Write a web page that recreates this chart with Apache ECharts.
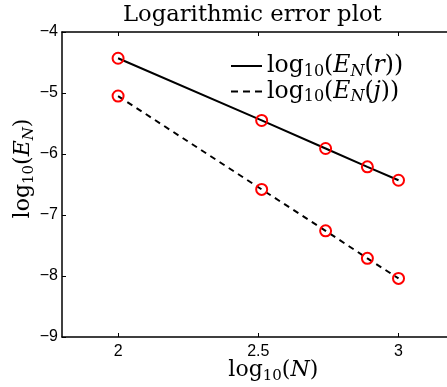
<!DOCTYPE html>
<html>
<head>
<meta charset="utf-8">
<script src="https://cdn.jsdelivr.net/npm/echarts@6/dist/echarts.min.js"></script>
<style>
  html, body { margin: 0; padding: 0; background: #fff; }
  #chart { width: 447px; height: 387px; }
</style>
</head>
<body>
<div id="chart"></div>
<script>
// log10 of the problem size N
const logN = [2, 2.512, 2.740, 2.889, 3];
// log10 of the error norms
const errR = [-4.43, -5.45, -5.91, -6.21, -6.43];
const errJ = [-5.05, -6.58, -7.26, -7.71, -8.04];
// tick positions
const xTicks = [2, 2.5, 3];

const serif = '"DejaVu Serif", serif';
const sans = '"Liberation Sans", Arial, sans-serif';

// rich-text styles for the small math labels: m = roman, i = italic, s/si = subscripts
function mathStyles(size, sub) {
  return {
    m: { fontFamily: serif, fontSize: size, color: '#000', lineHeight: 27 },
    i: { fontFamily: serif, fontSize: size, fontStyle: 'italic', color: '#000', lineHeight: 27 },
    s: { fontFamily: serif, fontSize: sub, color: '#000', lineHeight: 15, verticalAlign: 'bottom' },
    si: { fontFamily: serif, fontSize: sub, fontStyle: 'italic', color: '#000', lineHeight: 15, verticalAlign: 'bottom' }
  };
}
const axisRich = mathStyles(22, 15);
const legendRich = mathStyles(23.5, 16);

const labelR = 'log\u2081\u2080(E_N(r))';
const labelJ = 'log\u2081\u2080(E_N(j))';

const pairs = (ys) => logN.map((x, k) => [x, ys[k]]);
const minus = (v) => String(v).replace('-', '\u2212');

const chart = echarts.init(document.getElementById('chart'), null, { renderer: 'canvas' });

chart.setOption({
  animation: false,
  backgroundColor: '#fff',
  title: {
    text: 'Logarithmic error plot',
    left: 118,
    top: -1,
    textStyle: { fontFamily: serif, fontSize: 22.7, fontWeight: 'normal', color: '#000' }
  },
  legend: {
    left: 231,
    top: 54,
    orient: 'vertical',
    itemWidth: 31,
    itemHeight: 2,
    itemGap: 0,
    padding: 0,
    itemStyle: { color: '#000', borderWidth: 0 },
    textStyle: { rich: legendRich },
    formatter: (name) => name === labelR
      ? '{m|log}{s|10}{m|(}{i|E}{si|N}{m|(}{i|r}{m|))}'
      : '{m|log}{s|10}{m|(}{i|E}{si|N}{m|(}{i|j}{m|))}',
    data: [
      { name: labelR, icon: 'path://M0,0H31V2H0Z' },
      { name: labelJ, icon: 'path://M0,0H7V2H0Z M12,0H19V2H12Z M24,0H31V2H24Z' }
    ]
  },
  grid: { left: 62, top: 32, width: 392.6, height: 305, outerBoundsMode: 'none', containLabel: false },
  xAxis: [
    {
      type: 'value', min: 1.8, max: 3.2, position: 'bottom',
      name: '{m|log}{s|10}{m|(}{i|N}{m|)}',
      nameLocation: 'middle', nameGap: 20, nameMoveOverlap: false,
      nameTextStyle: { rich: axisRich, padding: [0, 0, 0, 30] },
      axisLine: { show: true, onZero: false, lineStyle: { color: '#000', width: 1.5 } },
      axisTick: { show: true, inside: true, length: 4, customValues: xTicks, lineStyle: { color: '#000' } },
      axisLabel: { customValues: xTicks, margin: 7, fontFamily: sans, fontSize: 16, color: '#000', formatter: (v) => minus(v) },
      splitLine: { show: false }
    },
    {
      type: 'value', min: 1.8, max: 3.2, position: 'top',
      axisLine: { show: true, onZero: false, lineStyle: { color: '#000', width: 1.5 } },
      axisTick: { show: true, inside: true, length: 4, customValues: xTicks, lineStyle: { color: '#000' } },
      axisLabel: { show: false },
      splitLine: { show: false }
    }
  ],
  yAxis: {
    type: 'value', min: -9, max: -4, interval: 1,
    name: '{m|log}{s|10}{m|(}{i|E}{si|N}{m|)}',
    nameLocation: 'middle', nameGap: 25, nameRotate: 90, nameMoveOverlap: false,
    nameTextStyle: { rich: axisRich, padding: [0, 0, 0, 32] },
    axisLine: { show: true, onZero: false, lineStyle: { color: '#000', width: 1.5 } },
    axisTick: { show: true, inside: true, length: 4, lineStyle: { color: '#000' } },
    axisLabel: { margin: 4, fontFamily: sans, fontSize: 16, color: '#000', formatter: (v) => minus(v) },
    splitLine: { show: false }
  },
  series: [
    {
      name: labelR, type: 'line', data: pairs(errR),
      symbol: 'circle', symbolSize: 11,
      lineStyle: { color: '#000', width: 2 },
      itemStyle: { color: 'rgba(0,0,0,0)', borderColor: '#f00', borderWidth: 2 },
      z: 3
    },
    {
      name: labelJ, type: 'line', data: pairs(errJ),
      symbol: 'circle', symbolSize: 11,
      lineStyle: { color: '#000', width: 2, type: [6, 5] },
      itemStyle: { color: 'rgba(0,0,0,0)', borderColor: '#f00', borderWidth: 2 },
      z: 3
    }
  ]
});
</script>
</body>
</html>
